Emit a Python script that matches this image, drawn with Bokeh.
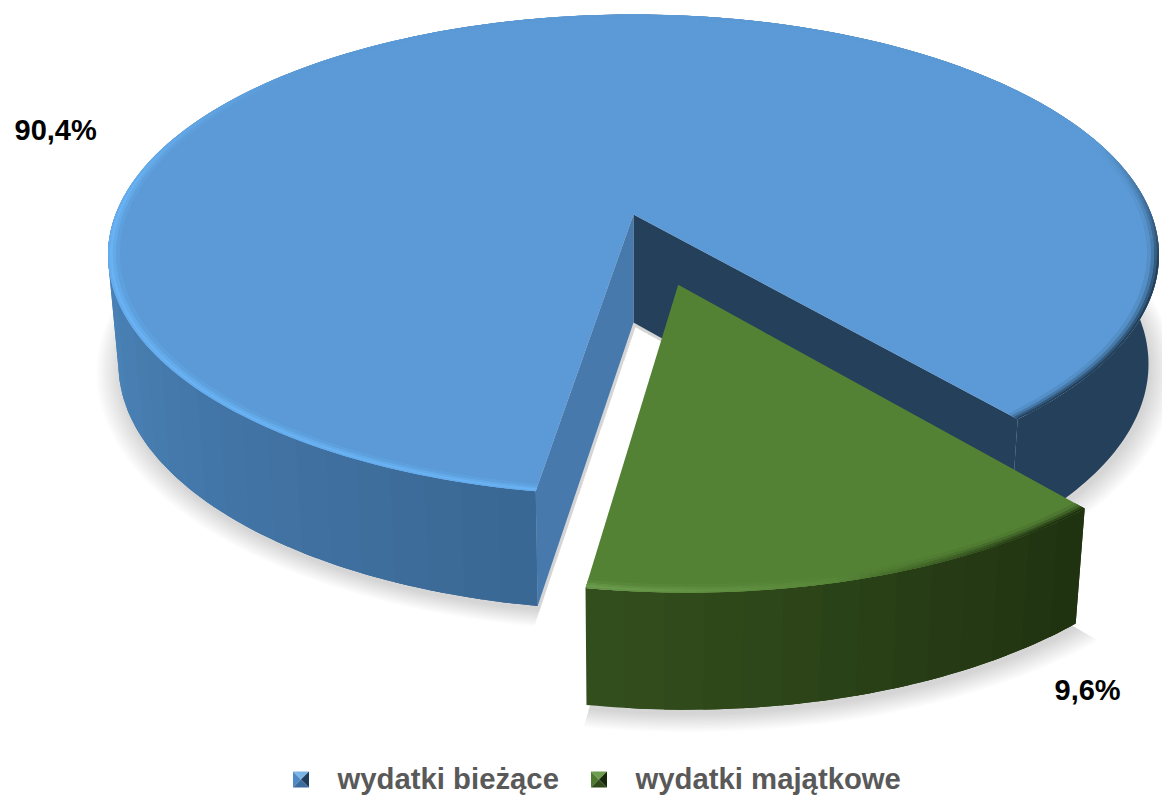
import numpy as np
from bokeh.embed import file_html
from bokeh.resources import INLINE
from bokeh.plotting import figure
from bokeh.models import Range1d
from bokeh.core.properties import value as fixed

# ---- data
categories = ["wydatki bieżące", "wydatki majątkowe"]
values = [90.4, 9.6]                 # printed labels
drawn_shares = [86.3, 13.7]          # angular share as the wedge appears in the reference

# ---- scene (reference pixel space, perspective disk)
CX, AY, A, B, K = 633.0, 214.0, 518.0, 233.7, 0.1685
BOTTOM_SCALE = 0.98
WEDGE_CENTRE = -74.4
EXPLODE = 0.298
GREEN_RADIUS = 0.985
BLUE, GREEN = "#5B9AD6", "#548235"


def hex2rgb(c):
    return np.array([int(c[i:i + 2], 16) for i in (1, 3, 5)], float)


def mix(c1, c2, t):
    t = float(np.clip(t, 0, 1))
    r = hex2rgb(c1) * (1 - t) + hex2rgb(c2) * t
    return "#%02x%02x%02x" % tuple(int(round(x)) for x in r)


def top(u, v):
    w = 1 + K * np.asarray(v, float)
    return CX + A * np.asarray(u, float) / w, AY - B * np.asarray(v, float) / w


def bot(u, v):
    x, y = top(u, v)
    w = 1 + K * np.asarray(v, float)
    return CX + (x - CX) * BOTTOM_SCALE, y + 75 + 33 / w


def disk(theta, r=1.0, off=(0.0, 0.0)):
    t = np.radians(theta)
    return off[0] + r * np.cos(t), off[1] + r * np.sin(t)


sweep = drawn_shares[1] * 3.6
g0, g1 = WEDGE_CENTRE - sweep / 2, WEDGE_CENTRE + sweep / 2
b0, b1 = g1, g0 + 360.0
off_g = (EXPLODE * np.cos(np.radians(-74.0)), EXPLODE * np.sin(np.radians(-74.0)))

p = figure(width=1162, height=796, output_backend="svg", toolbar_location=None,
           x_range=Range1d(0, 1162), y_range=Range1d(796, 0),
           min_border=0, min_border_left=0, min_border_right=0, min_border_top=0, min_border_bottom=0,
           outline_line_color=None, background_fill_color="white", border_fill_color="white")
p.axis.visible = False
p.grid.visible = False


def add(quads, colors):
    xs = [list(map(float, q[0])) for q in quads]
    ys = [list(map(float, q[1])) for q in quads]
    p.patches(xs, ys, fill_color=colors, line_color=None)


# ---- shadows
for i in range(14):
    r = 1.0 + i * 0.0035
    th = np.linspace(b0, b1, 240)
    u, v = disk(th, r)
    x, y = bot(np.r_[0, u], np.r_[0, v])
    p.patch(x + 2, y + 5, fill_color="black", fill_alpha=0.012, line_color=None)
    th = np.linspace(g0, g1, 80)
    u, v = disk(th, r * GREEN_RADIUS, off_g)
    x, y = bot(np.r_[off_g[0], u], np.r_[off_g[1], v])
    p.patch(x + 2, y + 5, fill_color="black", fill_alpha=0.012, line_color=None)


def wall(t0, t1, off, colfun, n, r=1.0):
    """Painter's strips: each strip runs on past the next step so no seams show."""
    th = np.linspace(t0, t1, n + 1)
    step = th[1] - th[0]
    quads, cols = [], []
    for a0 in th[:-1]:
        a1 = min(a0 + 2.5 * step, t1)
        arc = np.linspace(a0, a1, max(5, int(a1 - a0) + 2))
        u, v = disk(arc, r, off)
        xt, yt = top(u, v)
        xb, yb = bot(u, v)
        quads.append((np.r_[xt, xb[::-1]], np.r_[yt, yb[::-1]]))
        cols.append(colfun(a0 + step / 2))
    add(quads, cols)


DARK_END = 120.0
wall(b0, DARK_END, (0, 0), lambda a: "#24405A", 1)
wall(DARK_END, 175.0, (0, 0), lambda a: "#4F8AC2", 1)
wall(175.0, b1, (0, 0), lambda a: mix("#4F8AC2", "#3A6793", (a - 175) / (b1 - 175)), 24)


def face(theta, off, color):
    u0, v0 = off
    u1, v1 = disk(theta, 1.0, off)
    xt, yt = top(np.array([u0, u1]), np.array([v0, v1]))
    xb, yb = bot(np.array([u0, u1]), np.array([v0, v1]))
    add([(np.r_[xt, xb[::-1]], np.r_[yt, yb[::-1]])], [color])


face(b0, (0, 0), "#24405A")
face(b1, (0, 0), "#4779AD")

# blue top
th = np.linspace(b0, b1, 300)
u, v = disk(th)
x, y = top(np.r_[0, u], np.r_[0, v])
p.patch(x, y, fill_color=BLUE, line_color=None)


def rim(t0, t1, off, base, light, dark, lightfun, darkfun, n, scale=1.0):
    radii = [1.0, 0.995, 0.99, 0.984, 0.978]
    light_prof = [0.75, 1.0, 0.65, 0.25]
    dark_prof = [1.0, 0.72, 0.38, 0.12]
    th = np.linspace(t0, t1, n + 1)
    step = th[1] - th[0]
    quads, cols = [], []
    for j in range(4):
        lo, hi = radii[j + 1] * scale, radii[j] * scale + (0.001 if j else 0.0)
        for a0 in th[:-1]:
            a1 = min(a0 + 2.0 * step, t1)
            mid = a0 + step / 2
            uo, vo = disk(np.array([a0, a1]), hi, off)
            ui, vi = disk(np.array([a1, a0]), lo, off)
            qx, qy = top(np.r_[uo, ui], np.r_[vo, vi])
            c = mix(base, light, light_prof[j] * lightfun(mid))
            c = mix(c, dark, dark_prof[j] * darkfun(mid))
            if c != base:
                quads.append((qx, qy))
                cols.append(c)
    add(quads, cols)


rim(b0, b1, (0, 0), BLUE, "#69B2F3", "#24405A",
    lambda a: np.clip((a - 135) / 40, 0, 1),
    lambda a: np.clip((18 - a) / 30, 0, 1), 240)

# ---- green slice
wall(g0, g1, off_g, lambda a: mix("#344F1E", "#1F3210", (a - g0) / sweep), 14, GREEN_RADIUS)
th = np.linspace(g0, g1, 60)
u, v = disk(th, GREEN_RADIUS, off_g)
x, y = top(np.r_[off_g[0], u], np.r_[off_g[1], v])
p.patch(x, y, fill_color=GREEN, line_color=None)
rim(g0, g1, off_g, GREEN, "#6C9C4E", "#1F3210",
    lambda a: np.clip(1 - (a - g0) / (sweep * 0.55), 0, 1),
    lambda a: np.clip((a - g0 - sweep * 0.45) / (sweep * 0.45), 0, 1), 50, GREEN_RADIUS)

# ---- data labels
labels = [f"{s:.1f}%".replace(".", ",") for s in values]
p.text([14, 1054], [129, 689], text=labels, text_font=fixed("Liberation Sans"),
       text_font_style="bold", text_font_size="29px", text_color="black",
       text_align="left", text_baseline="middle")

# ---- legend
marker_x = [300.5, 598.5]
text_x = [337, 635]
LEG_Y, HALF = 779.0, 8.0
palettes = [("#7DB4E6", "#4F8AC4", "#1F3D5A", "#3C6C9C"),
            ("#6C9C4E", "#4E7A30", "#16260B", "#2E4A1A")]
for mx, pal in zip(marker_x, palettes):
    corners = [(mx - HALF, LEG_Y - HALF), (mx + HALF, LEG_Y - HALF),
               (mx + HALF, LEG_Y + HALF), (mx - HALF, LEG_Y + HALF)]
    order = [(3, 0), (0, 1), (1, 2), (2, 3)]
    mxs, mys = [], []
    for i0, i1 in order:
        mxs.append([corners[i0][0], corners[i1][0], mx])
        mys.append([corners[i0][1], corners[i1][1], LEG_Y])
    p.patches(mxs, mys, fill_color=[pal[1], pal[0], pal[2], pal[3]], line_color=None)

p.text(text_x, [LEG_Y - 1] * 2, text=categories, text_font=fixed("Liberation Sans"),
       text_font_style="bold", text_font_size="29.3px", text_color="#595959",
       text_align="left", text_baseline="middle")

open("out.html", "w").write(file_html(p, INLINE))
